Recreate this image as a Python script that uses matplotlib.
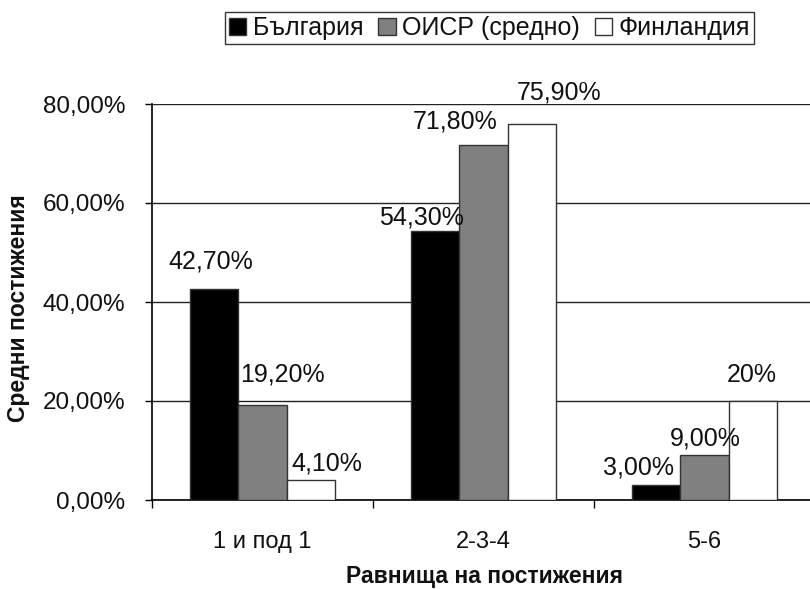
import matplotlib
matplotlib.use("Agg")
import matplotlib.pyplot as plt
from matplotlib.ticker import FuncFormatter, FixedLocator, NullFormatter

plt.rcParams['font.family'] = ['Liberation Sans', 'DejaVu Sans']

# Data
categories = ["1 и под 1", "2-3-4", "5-6"]
series_names = ["България", "ОИСР (средно)", "Финландия"]
bulgaria = [42.7, 54.3, 3.0]
oecd = [19.2, 71.8, 9.0]
finland = [4.1, 75.9, 20.0]
value_labels = [
    ["42,70%", "54,30%", "3,00%"],
    ["19,20%", "71,80%", "9,00%"],
    ["4,10%", "75,90%", "20%"],
]
y_ticks = [0, 20, 40, 60, 80]

# Styling
colors = ["#000000", "#808080", "#ffffff"]
bar_w = 0.22
# label offsets (pixels) from the top centre of each bar
label_offsets = [
    [(-3, 27), (-13, 14), (-17, 18)],
    [(20, 30), (-28, 23), (1, 17)],
    [(16, 16), (27, 32), (-1, 26)],
]

W, H = 810, 589
fig = plt.figure(figsize=(W / 100, H / 100), dpi=100)
left, right, bottom, top = 152, 815, 500, 104
ax = fig.add_axes([left / W, (H - bottom) / H, (right - left) / W, (bottom - top) / H])

series = [bulgaria, oecd, finland]
x = list(range(len(categories)))
handles = []
for i, (vals, name, col) in enumerate(zip(series, series_names, colors)):
    xs = [xi + (i - 1) * bar_w for xi in x]
    bars = ax.bar(xs, vals, width=bar_w, color=col, edgecolor="#333333",
                  linewidth=1.0, label=name, zorder=3)
    handles.append(bars)
    for j, (bx, v) in enumerate(zip(xs, vals)):
        dx, dy = label_offsets[i][j]
        ax.annotate(value_labels[i][j], (bx, v), xytext=(dx, dy),
                    textcoords="offset pixels", ha="center", va="center",
                    fontsize=18, color="#111111", zorder=4)

ax.set_xlim(-0.5, len(categories) - 0.5)
ax.set_ylim(0, 80)
ax.set_yticks(y_ticks)
ax.yaxis.set_major_formatter(FuncFormatter(lambda v, p: f"{v:.2f}%".replace(".", ",")))
ax.yaxis.grid(True, color="#222222", linewidth=1.0, zorder=0)
ax.set_axisbelow(True)

# category boundaries carry the tick marks; names sit at the centres
ax.xaxis.set_major_locator(FixedLocator([k - 0.5 for k in range(len(categories) + 1)]))
ax.xaxis.set_major_formatter(NullFormatter())
ax.xaxis.set_minor_locator(FixedLocator(x))
ax.set_xticklabels(categories, minor=True)
ax.tick_params(axis="x", which="major", direction="out", length=6, width=1.0, color="black")
ax.tick_params(axis="x", which="minor", length=0, pad=22, labelsize=17, labelcolor="#111111")
ax.tick_params(axis="y", direction="out", length=5, width=1.0, pad=14,
               labelsize=17.5, labelcolor="#111111")

for s in ["top", "right"]:
    ax.spines[s].set_visible(False)
for s in ["left", "bottom"]:
    ax.spines[s].set_color("black")
    ax.spines[s].set_linewidth(1.2)

fig.text(484 / W, 1 - 577 / H, "Равнища на постижения", ha="center", va="center",
         fontsize=16.5, fontweight="bold", color="#111111")
fig.text(19 / W, 1 - 308 / H, "Средни постижения", ha="center", va="center",
         rotation=90, fontsize=16.5, fontweight="bold", color="#111111")

leg = fig.legend(handles=handles, labels=series_names, loc="center",
                 bbox_to_anchor=(489.5 / W, 1 - 28 / H), ncol=3, fontsize=18,
                 frameon=True, fancybox=False, edgecolor="black",
                 handlelength=0.7, handleheight=0.7, handletextpad=0.25,
                 columnspacing=0.6, borderpad=0.15, borderaxespad=0)
leg.get_frame().set_linewidth(1.0)
for t in leg.get_texts():
    t.set_color("#111111")

fig.savefig("out.png", dpi=100)
